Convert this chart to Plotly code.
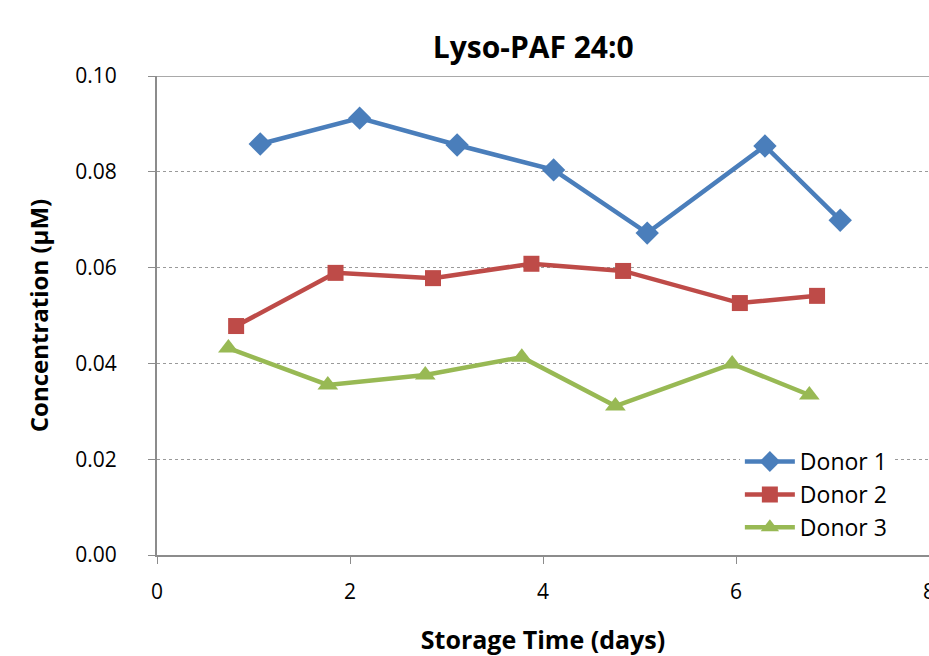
import plotly.graph_objects as go

# Storage time (days) and measured Lyso-PAF 24:0 concentration (µM) per donor
donor1_days = [1.07, 2.10, 3.11, 4.11, 5.08, 6.30, 7.08]
donor1_conc = [0.0858, 0.0912, 0.0856, 0.0804, 0.0672, 0.0854, 0.0699]

donor2_days = [0.82, 1.85, 2.86, 3.88, 4.83, 6.04, 6.84]
donor2_conc = [0.0478, 0.0589, 0.0578, 0.0608, 0.0593, 0.0526, 0.0541]

donor3_days = [0.74, 1.77, 2.78, 3.78, 4.75, 5.96, 6.76]
donor3_conc = [0.0432, 0.0355, 0.0376, 0.0413, 0.0311, 0.0399, 0.0334]

x_ticks = [0, 2, 4, 6, 8]
y_ticks = [0.00, 0.02, 0.04, 0.06, 0.08, 0.10]

FONT = "Open Sans"

fig = go.Figure()
series = [
    ("Donor 1", donor1_days, donor1_conc, "#4A7EBB", "diamond", 18),
    ("Donor 2", donor2_days, donor2_conc, "#BE4B48", "square", 16),
    ("Donor 3", donor3_days, donor3_conc, "#98B954", "triangle-up", 18),
]
for name, xs, ys, color, symbol, size in series:
    fig.add_trace(go.Scatter(
        x=xs, y=ys, name=name, mode="lines+markers",
        line=dict(color=color, width=4.5),
        marker=dict(symbol=symbol, size=size, color=color),
    ))

# solid frame line at the top of the value range
fig.add_shape(type="line", xref="paper", yref="y", x0=0, x1=1, y0=0.10, y1=0.10,
              line=dict(color="#8C8C8C", width=1.5), layer="below")

fig.update_layout(
    width=929, height=656,
    margin=dict(l=157, r=0, t=76, b=101, autoexpand=False),
    paper_bgcolor="white", plot_bgcolor="white",
    font=dict(family=FONT, color="black", size=21),
    title=dict(text="<b>Lyso-PAF 24:0</b>", x=0.574, xanchor="center",
               y=0.928, yanchor="middle", font=dict(size=30, family=FONT)),
    showlegend=True,
    legend=dict(x=0.755, y=0.24, xanchor="left", yanchor="top",
                bgcolor="rgba(255,255,255,1)", font=dict(size=23, family=FONT),
                tracegroupgap=0, itemwidth=50),
    xaxis=dict(
        range=[0, 8], tickvals=x_ticks, ticktext=[str(v) for v in x_ticks],
        showgrid=False, zeroline=False, automargin=False,
        showline=True, linecolor="#8C8C8C", linewidth=2,
        ticks="outside", ticklen=7, tickcolor="#8C8C8C", tickwidth=1,
        ticklabelstandoff=10, ticklabeloverflow="allow",
        title=dict(text="<b>Storage Time (days)</b>", font=dict(size=25, family=FONT),
                   standoff=32),
    ),
    yaxis=dict(
        range=[0, 0.10], tickvals=y_ticks, ticktext=[f"{v:.2f}" for v in y_ticks],
        showgrid=True, gridcolor="#9A9A9A", griddash="dot", gridwidth=1,
        zeroline=False, automargin=False,
        showline=True, linecolor="#8C8C8C", linewidth=2,
        ticks="outside", ticklen=7, tickcolor="#8C8C8C", tickwidth=1,
        ticklabelstandoff=27,
        title=dict(text="<b>Concentration (µM)</b>", font=dict(size=24, family=FONT),
                   standoff=20),
    ),
)

fig.write_html("out.html")
